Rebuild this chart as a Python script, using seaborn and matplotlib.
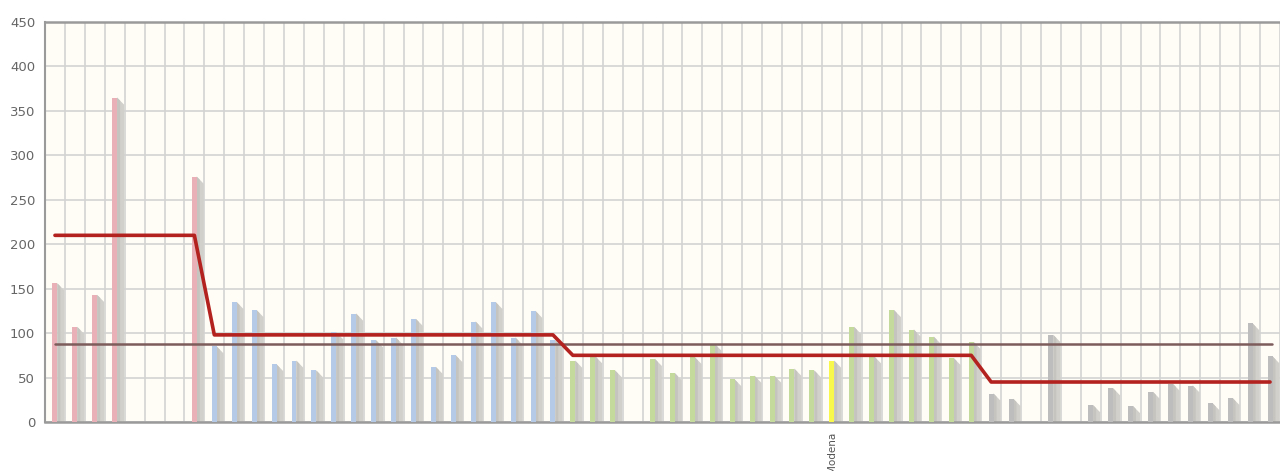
import numpy as np
import pandas as pd
import seaborn as sns
import matplotlib.pyplot as plt

# bar values per position (None = no bar)
values = [156, 107, 143, 365, None, None, None, 276,
          85, 135, 126, 65, 69, 58, 101, 122, 92, 95, 116, 62, 75, 113, 135, 95, 125, 92,
          69, 74, 58, None, 71, 55, 73, 88, 48, 52, 52, 60, 58, 69, 107, 74, 126, 104, 96, 72, 90,
          32, 26, None, 98, None, 19, 38, 18, 34, 43, 41, 21, 27, 111, 74]
groups = (["pink"] * 8 + ["blue"] * 18 + ["green"] * 13 + ["yellow"] + ["green"] * 7
          + ["gray"] * 15)
group_avg = {"pink": 210, "blue": 98, "green": 75, "yellow": 75, "gray": 45}
overall_avg = 88
label_pos = 39
label_text = "Modena"

palette = {"pink": "#e9b1b7", "blue": "#b5cae6", "green": "#c4d99c",
           "yellow": "#f7f74c", "gray": "#bdbdbd"}

pos = np.arange(len(values))
df = pd.DataFrame({"pos": pos, "value": values, "group": groups})
df["avg"] = df["group"].map(group_avg)
bars = df.dropna(subset=["value"])

sns.set_style("white")
fig = plt.figure(figsize=(12.8, 4.71), dpi=100)
ax = fig.add_axes([45 / 1280, 49 / 471, 1235 / 1280, 400 / 471])
ax.set_facecolor("#fffdf6")

# drop shadows behind the bars
for p, v in zip(bars["pos"], bars["value"]):
    x0, x1 = p + 0.12, p + 0.47
    ax.fill([x0, x0, x1, x1], [0, v, v - 8, 0], color="#d2d0cb", lw=0, zorder=2)
    ax.fill([x0, x0, x0 + 0.15, x0 + 0.15], [0, v, v - 3.5, 0], color="#c6c4bf", lw=0, zorder=2)

sns.barplot(data=bars, x="pos", y="value", hue="group", palette=palette,
            native_scale=True, dodge=False, width=0.25, legend=False,
            saturation=1, linewidth=0, ax=ax, zorder=3)

sns.lineplot(data=df, x="pos", y="avg", color="#b3221f", lw=2.6, ax=ax, zorder=5)
ax.plot([pos[0], pos[-1] + 0.1], [overall_avg, overall_avg], color="#7d5c5c", lw=1.8, zorder=4)

ax.set_xlim(-0.5, 61.25)
ax.set_ylim(0, 450)
ax.set_yticks(np.arange(0, 451, 50))
ax.set_xticks(np.arange(-0.5, 62, 1))
ax.set_xticklabels([])
ax.set_xticks([label_pos], minor=True)
ax.set_xticklabels([label_text], minor=True, rotation=90, fontsize=7.5, color="#555555")
ax.tick_params(axis="x", which="minor", length=0, pad=7)
ax.tick_params(axis="x", which="major", length=3, color="#aaaaaa", direction="out")
ax.tick_params(axis="y", length=5, color="#888888", labelsize=9.5, labelcolor="#666666", pad=2)
ax.grid(True, which="major", color="#d3d3d3", lw=1.2, zorder=0)
ax.set_axisbelow(True)
ax.set_xlabel("")
ax.set_ylabel("")

for side in ["left", "bottom", "top"]:
    ax.spines[side].set_visible(True)
    ax.spines[side].set_color("#9a9a9a")
ax.spines["left"].set_linewidth(1.5)
ax.spines["bottom"].set_linewidth(1.8)
ax.spines["top"].set_linewidth(1.8)
ax.spines["right"].set_visible(False)

fig.savefig("out.png", dpi=100)
